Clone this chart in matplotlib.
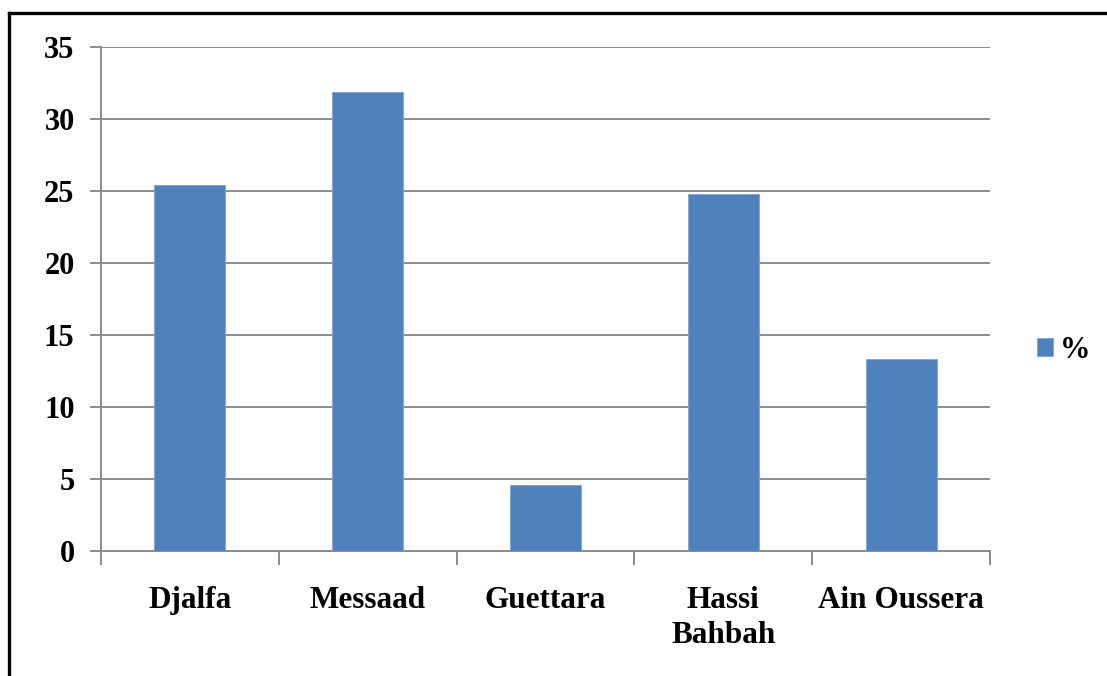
import matplotlib
matplotlib.use("Agg")
import matplotlib.pyplot as plt
from matplotlib.lines import Line2D
from matplotlib.patches import Patch
import numpy as np

categories = ["Djalfa", "Messaad", "Guettara", "Hassi\nBahbah", "Ain Oussera"]
percent = [25.4, 31.85, 4.6, 24.8, 13.3]
y_ticks = [0, 5, 10, 15, 20, 25, 30, 35]
series_name = "%"

bar_color = "#4F81BD"
grid_color = "#8C8C8C"

plt.rcParams["font.family"] = ["Liberation Serif", "DejaVu Serif"]
plt.rcParams["font.weight"] = "bold"

fig = plt.figure(figsize=(11.07, 6.76), dpi=100)
ax = fig.add_axes([101 / 1107, 1 - 551 / 676, (990 - 101) / 1107, (551 - 47) / 676])

x = np.arange(len(categories))
ax.bar(x, percent, width=0.4, color=bar_color, edgecolor="#7FA3D0",
       linewidth=0.6, zorder=3)

ax.set_xlim(-0.5, len(categories) - 0.5)
ax.set_ylim(0, 35)
ax.set_yticks(y_ticks)
ax.set_yticklabels([str(v) for v in y_ticks], fontsize=22, fontweight="bold")
ax.yaxis.grid(True, color=grid_color, linewidth=1.4, zorder=0)
ax.set_axisbelow(True)

# category labels centred under the bars, ticks on category boundaries
ax.set_xticks(np.arange(len(categories) + 1) - 0.5)
ax.set_xticklabels([])
ax.tick_params(axis="x", length=10, width=1.4, color=grid_color, direction="out")
ax.tick_params(axis="y", length=8, width=1.4, color=grid_color, direction="out", pad=11)
for xi, name in zip(x, categories):
    ax.text(xi, -2.45, name, ha="center", va="top", fontsize=22.5,
            fontweight="bold", linespacing=1.25)

for side in ("top", "right"):
    ax.spines[side].set_visible(False)
for side in ("left", "bottom"):
    ax.spines[side].set_color(grid_color)
    ax.spines[side].set_linewidth(1.4)

handle = Patch(facecolor=bar_color, edgecolor="#7FA3D0", linewidth=0.6)
fig.legend([handle], [series_name], loc="center left",
           bbox_to_anchor=(1037 / 1107, 1 - 350 / 676), frameon=False,
           borderpad=0, borderaxespad=0,
           handlelength=0.52, handleheight=0.52, handletextpad=0.22,
           prop={"weight": "bold", "size": 22})

# outer chart frame
fig.add_artist(Line2D([9 / 1107, 9 / 1107], [0, 1 - 13 / 676],
                      transform=fig.transFigure, color="black", linewidth=2.4))
fig.add_artist(Line2D([9 / 1107, 1], [1 - 13 / 676, 1 - 13 / 676],
                      transform=fig.transFigure, color="black", linewidth=2.4))

fig.savefig("out.png", dpi=100, facecolor="white")
